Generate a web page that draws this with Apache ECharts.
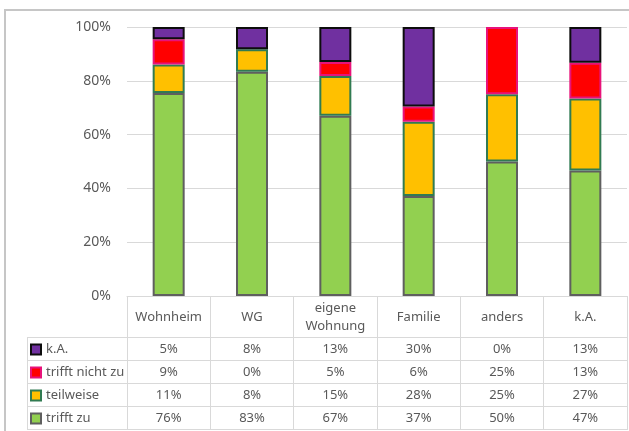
<!DOCTYPE html>
<html>
<head>
<meta charset="utf-8">
<script src="https://cdn.jsdelivr.net/npm/echarts@6/dist/echarts.min.js"></script>
<style>
  html, body { margin: 0; padding: 0; background: #fff; }
  #chart { width: 629px; height: 431px; }
</style>
</head>
<body>
<div id="chart"></div>
<script>
// categories + shares in percent (table shows rounded values)
const categories = ['Wohnheim', 'WG', 'eigene\nWohnung', 'Familie', 'anders', 'k.A.']
const trifftZu = [75.5, 83.4, 67.0, 37.2, 50.0, 46.7]
const teilweise = [10.6, 8.3, 14.8, 27.6, 25.0, 26.7]
const trifftNichtZu = [9.3, 0, 5.2, 5.6, 25.0, 13.3]
const keineAngabe = [4.6, 8.3, 13.0, 29.6, 0, 13.3]
const yTicks = [0, 20, 40, 60, 80, 100]

const TEXT = '#595959'
const LINE = '#d9d9d9'
const FONT = 'Noto Sans'

// layout
const W = 629
const GRID_L = 127, GRID_R = 2, GRID_T = 27, GRID_B = 135
const HEAD_H = 42, ROW_H = 23
const KEY_L = 27
const axisY = 431 - GRID_B

const rows = [
  { name: 'k.A.', data: keineAngabe, color: '#7030a0', border: '#0d0d0d' },
  { name: 'trifft nicht zu', data: trifftNichtZu, color: '#ff0000', border: '#e8127a' },
  { name: 'teilweise', data: teilweise, color: '#ffc000', border: '#317b52' },
  { name: 'trifft zu', data: trifftZu, color: '#92d050', border: '#5f5f5f' }
]

const chart = echarts.init(document.getElementById('chart'), null, { renderer: 'canvas' })

const pct = v => Math.round(v) + '%'

const xAxes = [{
  type: 'category',
  data: categories,
  position: 'bottom',
  axisLine: { show: true, lineStyle: { color: LINE, width: 1 } },
  axisTick: { show: true, interval: 0, length: HEAD_H + ROW_H * rows.length, lineStyle: { color: LINE } },
  axisLabel: {
    interval: 0, margin: HEAD_H / 2, verticalAlign: 'middle',
    color: TEXT, fontFamily: FONT, fontSize: 13, lineHeight: 18
  }
}]
rows.forEach((r, i) => {
  xAxes.push({
    type: 'category',
    data: categories,
    position: 'bottom',
    offset: HEAD_H + ROW_H * i,
    axisLine: { show: false },
    axisTick: { show: false },
    axisLabel: {
      interval: 0, margin: ROW_H / 2, verticalAlign: 'middle',
      color: TEXT, fontFamily: FONT, fontSize: 13,
      formatter: (v, idx) => pct(r.data[idx])
    }
  })
})

// table rules (horizontal) and key column
const tableLines = []
for (let i = 0; i <= rows.length; i++) {
  const y = axisY + HEAD_H + ROW_H * i - 0.5
  tableLines.push({
    type: 'line',
    shape: { x1: KEY_L, y1: y, x2: W - GRID_R, y2: y },
    style: { stroke: LINE, lineWidth: 1 }
  })
}
tableLines.push({
  type: 'line',
  shape: { x1: KEY_L + 0.5, y1: axisY + HEAD_H, x2: KEY_L + 0.5, y2: axisY + HEAD_H + ROW_H * rows.length },
  style: { stroke: LINE, lineWidth: 1 }
})

const series = rows.slice().reverse().map(r => ({
  name: r.name,
  type: 'bar',
  stack: 'total',
  barWidth: 32,
  data: r.data.map(v => (v === 0 ? '-' : v)),
  itemStyle: { color: r.color, borderColor: r.border, borderWidth: 2 },
  emphasis: { disabled: true }
}))

chart.setOption({
  animation: false,
  backgroundColor: '#fff',
  textStyle: { fontFamily: FONT },
  grid: { left: GRID_L, right: GRID_R, top: GRID_T, bottom: GRID_B, containLabel: false },
  legend: {
    data: rows.map(r => r.name),
    orient: 'vertical',
    left: KEY_L + 3,
    top: axisY + HEAD_H,
    itemWidth: 10,
    itemHeight: 10,
    itemGap: 0,
    padding: 0,
    icon: 'rect',
    selectedMode: false,
    textStyle: { color: TEXT, fontSize: 13, fontFamily: FONT, lineHeight: ROW_H }
  },
  xAxis: xAxes,
  yAxis: {
    type: 'value',
    min: yTicks[0],
    max: yTicks[yTicks.length - 1],
    interval: 20,
    axisLine: { show: false },
    axisTick: { show: false },
    axisLabel: { formatter: '{value}%', color: TEXT, fontFamily: FONT, fontSize: 14, margin: 16 },
    splitLine: { lineStyle: { color: LINE } }
  },
  graphic: [
    {
      type: 'rect',
      shape: { x: 5, y: 10, width: 700, height: 500 },
      style: { fill: 'none', stroke: '#c6c6c6', lineWidth: 2 },
      z: 0
    },
    ...tableLines
  ],
  series
})
</script>
</body>
</html>
